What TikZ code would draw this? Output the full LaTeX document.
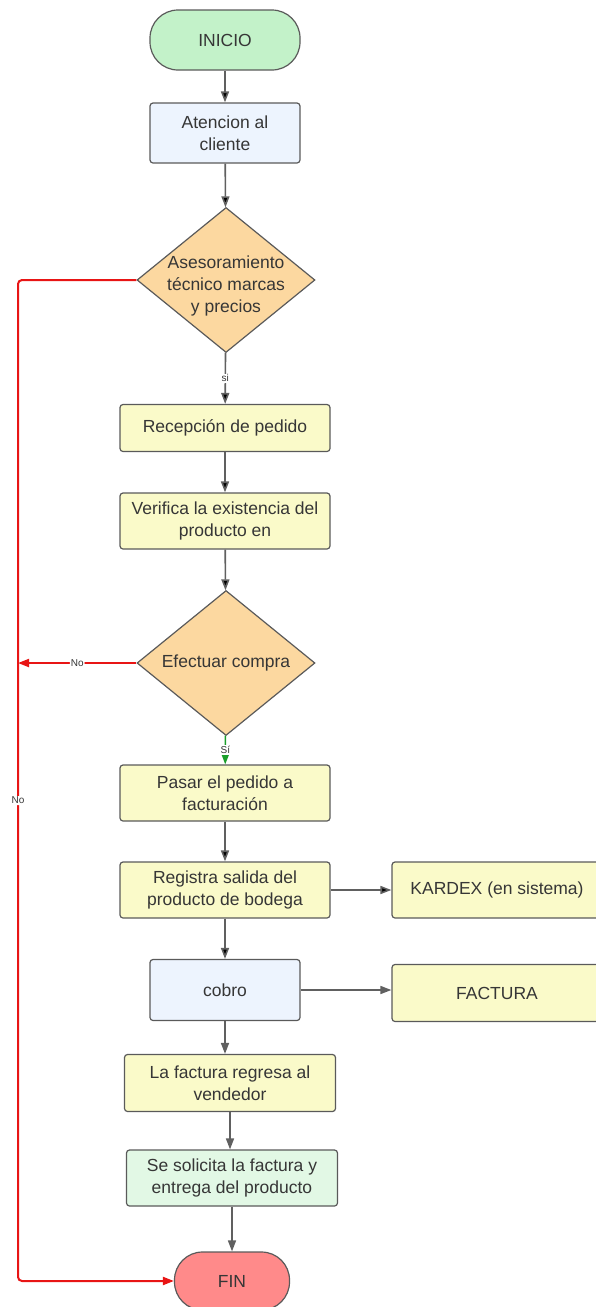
\documentclass[tikz,border=0pt]{standalone}
\usepackage{fontspec}
\setmainfont{Liberation Sans}
\usetikzlibrary{arrows.meta,shapes.geometric}

\definecolor{inicioverde}{HTML}{C3F2C9}
\definecolor{azulclaro}{HTML}{EDF4FE}
\definecolor{amarillo}{HTML}{FAFAC9}
\definecolor{naranja}{HTML}{FCD8A0}
\definecolor{verdeclaro}{HTML}{E2F8E5}
\definecolor{finrojo}{HTML}{FF8A8A}
\definecolor{borde}{HTML}{5A5A5A}
\definecolor{flecha}{HTML}{606060}
\definecolor{rojo}{HTML}{E81515}
\definecolor{verdesi}{HTML}{1A9E2A}
\definecolor{texto}{HTML}{363636}

\begin{document}
\begin{tikzpicture}[->,>={Triangle[length=11pt,width=8pt]},x=1pt,y=-1pt,
  font=\fontsize{17.5}{22}\selectfont,
  every node/.style={text=texto,align=center},
  caja/.style={draw=borde,line width=1.2pt,rounded corners=3pt,minimum height=56pt},
  term/.style={caja,rounded corners=28pt,minimum width=150pt,minimum height=60pt},
  dec/.style={draw=borde,line width=1.2pt,diamond,fill=naranja,inner sep=0pt,
    minimum width=178pt,minimum height=145pt,aspect=1.23},
  flujo/.style={draw=flecha,line width=1.6pt},
  nopath/.style={draw=rojo,line width=2pt,rounded corners=4pt},
  etiq/.style={font=\fontsize{10}{10}\selectfont,fill=white,inner sep=1pt}]
  \useasboundingbox[-] (0,0) rectangle (595,1307);

  \node[term,fill=inicioverde]       (ini) at (225,40)  {INICIO};
  \node[caja,fill=azulclaro,minimum width=150pt,minimum height=60pt] (ate) at (225,133) {Atencion al\\cliente};
  \node[dec,label={[yshift=-6pt]center:Asesoramiento\\técnico marcas\\y precios}] (ase) at (226,280) {};
  \node[caja,fill=amarillo,minimum width=210pt,minimum height=47pt] (rec) at (225,428) {Recepción de pedido};
  \node[caja,fill=amarillo,minimum width=210pt] (ver) at (225,521) {Verifica la existencia del\\producto en};
  \node[dec,label={center:Efectuar compra}] (efe) at (226,663) {};
  \node[caja,fill=amarillo,minimum width=210pt] (pas) at (225,793) {Pasar el pedido a\\facturación};
  \node[caja,fill=amarillo,minimum width=210pt] (reg) at (225,890) {Registra salida del\\producto de bodega};
  \node[caja,fill=amarillo,minimum width=210pt] (kar) at (497,890) {KARDEX (en sistema)};
  \node[caja,fill=azulclaro,minimum width=150pt,minimum height=61pt] (cob) at (225,990) {cobro};
  \node[caja,fill=amarillo,minimum width=210pt,minimum height=57pt] (fac) at (497,993) {FACTURA};
  \node[caja,fill=amarillo,minimum width=211pt,minimum height=57pt] (reg2) at (230,1083) {La factura regresa al\\vendedor};
  \node[caja,fill=verdeclaro,minimum width=211pt] (sol) at (232,1178) {Se solicita la factura y\\entrega del producto};
  \node[term,fill=finrojo,minimum width=115pt,minimum height=58pt] (fin) at (232,1281) {FIN};

  \coordinate (c1) at (18,280);
  \coordinate (c2) at (18,1281);
  \coordinate (c3) at (18,663);

  \path[flujo] (ini) edge (ate)
               (ate) edge (ase)
               (ase) edge node[etiq] {si} (rec)
               (rec) edge (ver)
               (ver) edge (efe)
               (pas) edge (reg)
               (reg) edge (cob)
               (reg) edge (kar);
  \draw[flujo] (cob.east) -- (cob.east -| fac.west);
  \draw[flujo,draw=verdesi] (efe) -- node[etiq] {Sí} (pas);
  \draw[flujo] (cob.south) -- (cob.south |- reg2.north);
  \draw[flujo] (reg2.south) -- (reg2.south |- sol.north);
  \draw[flujo] (sol) -- (fin);

  % ramas del No
  \draw[nopath] (ase.west) -- (c1) -- node[etiq,pos=0.52] {No} (c2) -- (fin.west);
  \draw[nopath] (efe.west) -- node[etiq] {No} (c3);
\end{tikzpicture}
\end{document}
